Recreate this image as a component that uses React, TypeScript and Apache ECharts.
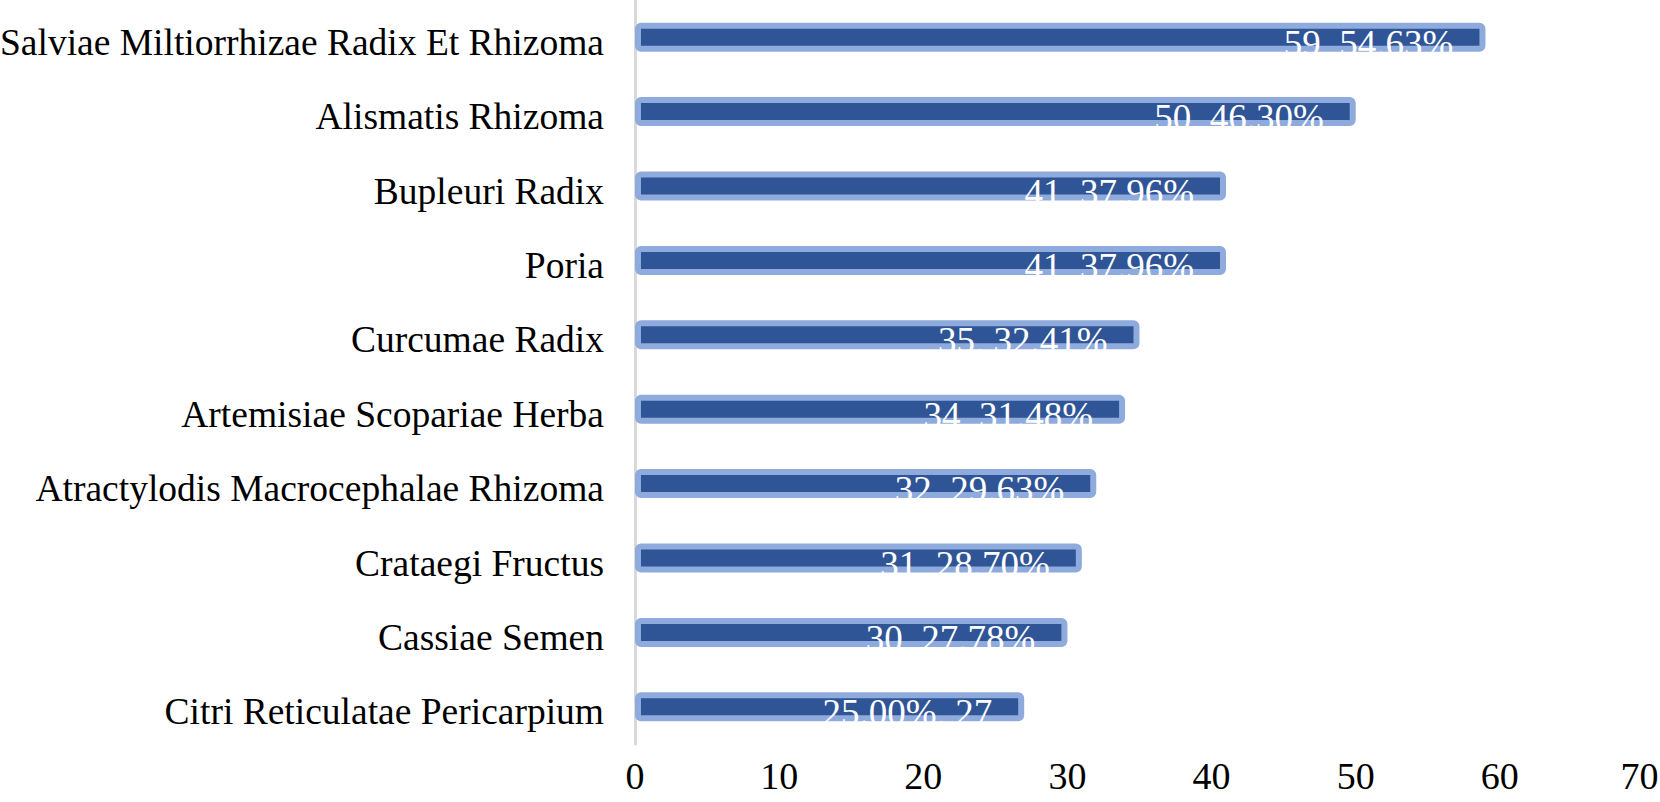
import React, { useEffect, useRef } from "react";
import * as echarts from "echarts";

const categories = [
  "Salviae Miltiorrhizae Radix Et Rhizoma",
  "Alismatis Rhizoma",
  "Bupleuri Radix",
  "Poria",
  "Curcumae Radix",
  "Artemisiae Scopariae Herba",
  "Atractylodis Macrocephalae Rhizoma",
  "Crataegi Fructus",
  "Cassiae Semen",
  "Citri Reticulatae Pericarpium",
];
const counts = [59, 50, 41, 41, 35, 34, 32, 31, 30, 27];
const percents = ["54.63%", "46.30%", "37.96%", "37.96%", "32.41%", "31.48%", "29.63%", "28.70%", "27.78%", "25.00%"];
const xTicks = [0, 10, 20, 30, 40, 50, 60, 70];

const FONT = "'Liberation Serif', 'Times New Roman', serif";

export default function App() {
  const ref = useRef<HTMLDivElement>(null);
  useEffect(() => {
    if (!ref.current) return;
    const chart = echarts.init(ref.current, null, { renderer: "svg" });
    const last = counts.length - 1;
    const xMax = xTicks[xTicks.length - 1];
    chart.setOption({
      animation: false,
      backgroundColor: "#ffffff",
      grid: {
        left: 635,
        right: 16,
        top: 0,
        bottom: 58,
        containLabel: false,
        outerBoundsMode: "none",
      },
      xAxis: {
        type: "value",
        min: xTicks[0],
        max: xMax,
        interval: 10,
        axisLine: { show: false },
        axisTick: { show: false },
        splitLine: { show: false },
        axisLabel: {
          color: "#000",
          fontFamily: FONT,
          fontSize: 38,
          margin: 13,
          formatter: (v: number) => (v === xMax ? `{r|${v}}` : `${v}`),
          rich: {
            r: {
              color: "#000",
              fontFamily: FONT,
              fontSize: 38,
              padding: [0, 9, 0, 0],
            },
          },
        },
      },
      yAxis: {
        type: "category",
        inverse: true,
        data: categories,
        axisLine: { show: true, lineStyle: { color: "#D9D9D9", width: 3 } },
        axisTick: { show: false },
        axisLabel: {
          color: "#000",
          fontFamily: FONT,
          fontSize: 37.5,
          margin: 31,
          formatter: (v: string) => `{t|${v}}`,
          rich: {
            t: {
              color: "#000",
              fontFamily: FONT,
              fontSize: 37.5,
              padding: [10, 0, 0, 0],
            },
          },
        },
      },
      series: [
        {
          type: "bar",
          barWidth: 29,
          data: counts.map((v, i) => ({
            value: v,
            label: {
              formatter: i === last ? `${percents[i]}, ${v}` : `${v}, ${percents[i]}`,
            },
          })),
          itemStyle: {
            color: "#2F5597",
            borderColor: "#8FAADC",
            borderWidth: 6,
            borderRadius: 3,
          },
          label: {
            show: true,
            position: "insideRight",
            offset: [-27, 6],
            color: "#fff",
            fontFamily: FONT,
            fontSize: 37,
          },
        },
      ],
    });
    return () => chart.dispose();
  }, []);
  return (
    <div
      ref={ref}
      style={{ position: "fixed", left: 0, top: 0, width: 1660, height: 802 }}
    />
  );
}
